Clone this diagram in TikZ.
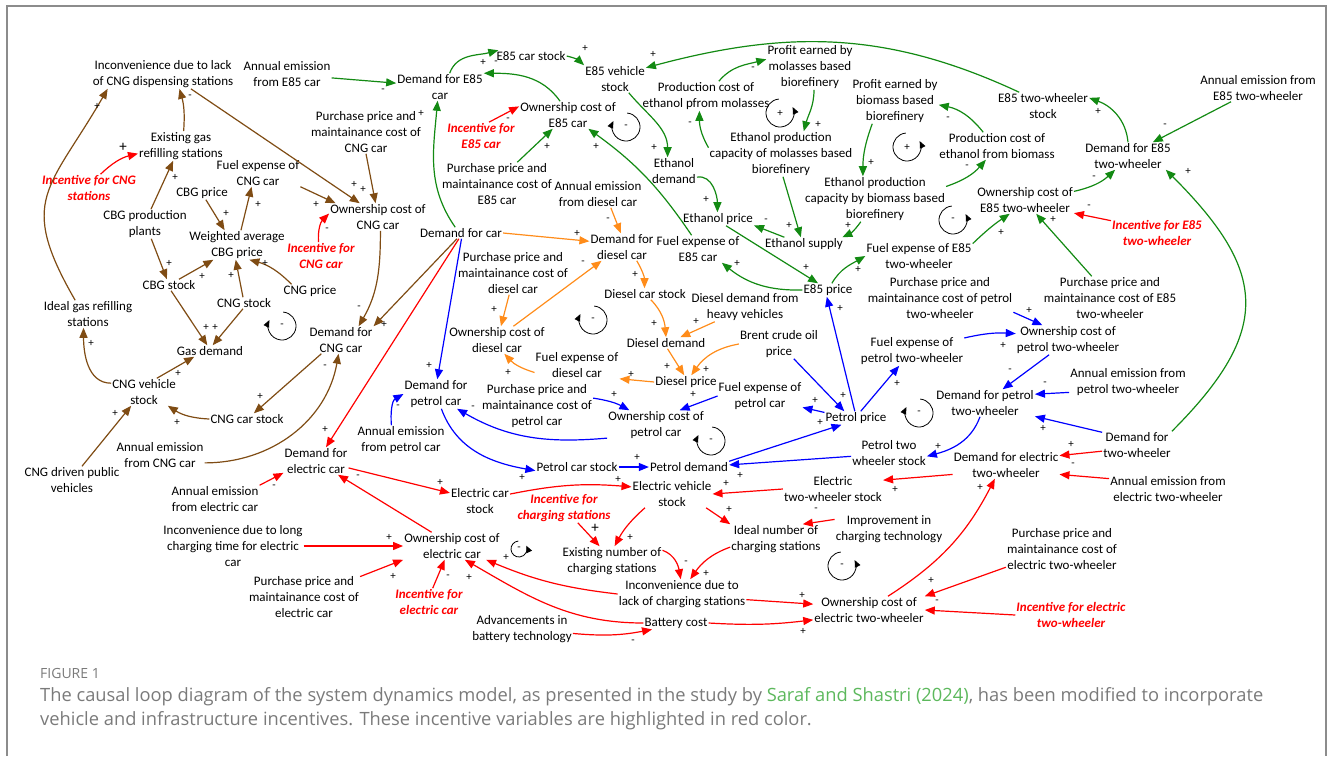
\documentclass[tikz,border=0pt]{standalone}
\usepackage{fontspec}
\setmainfont{Carlito}
\newfontfamily\capfont{Open Sans}
\usetikzlibrary{arrows.meta}
\begin{document}
\begin{tikzpicture}[x=1pt,y=1pt,
  every node/.style={font=\fontsize{13}{16}\selectfont,align=center,inner sep=1pt},
  incv/.style={text=rd,font=\fontsize{13}{16}\selectfont\bfseries\itshape},
  ar/.style={line width=1.2pt,-{Triangle[length=10pt,width=8pt]}},
  cng/.style={ar,cb}, eth/.style={ar,gr}, dsl/.style={ar,og},
  pet/.style={ar,bl}, ele/.style={ar,rd},
  sg/.style={font=\fontsize{11}{11}\selectfont,inner sep=0pt},
  sgbig/.style={font=\fontsize{15}{15}\selectfont,inner sep=0pt},
  lp/.style={line width=0.8pt,-{Triangle[length=7pt,width=6pt]}}]
  \definecolor{cb}{HTML}{7F4C14}
  \definecolor{gr}{HTML}{138A13}
  \definecolor{og}{HTML}{FF8C1A}
  \definecolor{bl}{HTML}{0000FF}
  \definecolor{rd}{HTML}{FF0000}
  \definecolor{fr}{HTML}{8C8C8C}
  \definecolor{cap}{HTML}{7A7A7A}
  \definecolor{lk}{HTML}{5CB85C}
  \useasboundingbox (0,0) rectangle (1330,-756);
  \draw[fr,line width=1.5pt] (7,-756) -- (7,-6) -- (1326,-6) -- (1326,-756);
  % cng
  \node (inconCNG) at (163,-74) {Inconvenience due to lack\\of CNG dispensing stations};
  \node (emE85car) at (287,-74) {Annual emission\\from E85 car};
  \node (demE85car) at (440,-87) {Demand for E85\\car};
  \node (exGas) at (181,-146) {Existing gas\\refilling stations};
  \node[incv] (incCNGst) at (89,-188) {Incentive for CNG\\stations};
  \node (fuelCNG) at (258,-173) {Fuel expense of\\CNG car};
  \node (ppCNG) at (366,-132) {Purchase price and\\maintainance cost of\\CNG car};
  \node (cbgPrice) at (202,-193) {CBG price};
  \node (ownCNG) at (378,-217) {Ownership cost of\\CNG car};
  \node (cbgPlants) at (145,-224) {CBG production\\plants};
  \node (wavgCBG) at (237,-245) {Weighted average\\CBG price};
  \node[incv] (incCNGcar) at (321,-256) {Incentive for\\CNG car};
  \node (cbgStock) at (169,-285) {CBG stock};
  \node (cngPrice) at (310,-291) {CNG price};
  \node (cngStock) at (244,-303) {CNG stock};
  \node (idealGas) at (88,-314) {Ideal gas refilling\\stations};
  \node (demCNG) at (341,-340) {Demand for\\CNG car};
  \node (gasDem) at (210,-351) {Gas demand};
  \node (cngVeh) at (144,-392) {CNG vehicle\\stock};
  \node (cngCar) at (247,-419) {CNG car stock};
  \node (emCNG) at (160,-455) {Annual emission\\from CNG car};
  \node (cngPub) at (72,-480) {CNG driven public\\vehicles};
  % e85
  \node (e85Car) at (531,-56) {E85 car stock};
  \node (e85Veh) at (615,-79) {E85 vehicle\\stock};
  \node (ownE85) at (568,-115) {Ownership cost of\\E85 car};
  \node[incv] (incE85) at (481,-136) {Incentive for\\E85 car};
  \node (ppE85) at (497,-184) {Purchase price and\\maintainance cost of\\E85 car};
  \node (emDies) at (598,-194) {Annual emission\\from diesel car};
  \node (demCar) at (461,-233) {Demand for car};
  \node (demDies) at (622,-247) {Demand for\\diesel car};
  \node (fuelE85) at (698,-249) {Fuel expense of\\E85 car};
  \node (pcMol) at (706,-96) {Production cost of\\ethanol pfrom molasses};
  \node (profMol) at (810,-67) {Profit earned by\\molasses based\\biorefinery};
  \node (ethDem) at (674,-171) {Ethanol\\demand};
  \node (capMol) at (781,-154) {Ethanol production\\capacity of molasses based\\biorefinery};
  \node (ethPrice) at (718,-219) {Ethanol price};
  \node (ethSup) at (804,-244) {Ethanol supply};
  \node (profBio) at (895,-101) {Profit earned by\\biomass based\\biorefinery};
  \node (capBio) at (875,-199) {Ethanol production\\capacity by biomass based\\biorefinery};
  \node (pcBio) at (997,-146) {Production cost of\\ethanol from biomass};
  \node (e85twSt) at (1043,-106) {E85 two-wheeler\\stock};
  \node (emE85tw) at (1258,-88) {Annual emission from\\E85 two-wheeler};
  \node (demE85tw) at (1128,-156) {Demand for E85\\two-wheeler};
  \node (ownE85tw) at (1025,-200) {Ownership cost of\\E85 two-wheeler};
  \node[incv] (incE85tw) at (1157,-233) {Incentive for E85\\two-wheeler};
  \node (fuelE85tw) at (919,-256) {Fuel expense of E85\\two-wheeler};
  \node (e85Price) at (828,-290) {E85 price};
  % diesel
  \node (ppDies) at (513,-273) {Purchase price and\\maintainance cost of\\diesel car};
  \node (diesCar) at (645,-294) {Diesel car stock};
  \node (diesHeavy) at (745,-307) {Diesel demand from\\heavy vehicles};
  \node (ownDies) at (497,-340) {Ownership cost of\\diesel car};
  \node (diesDem) at (666,-343) {Diesel demand};
  \node (brent) at (779,-344) {Brent crude oil\\price};
  \node (fuelDies) at (577,-365) {Fuel expense of\\diesel car};
  \node (diesPrice) at (686,-382) {Diesel price};
  % petrol
  \node (demPet) at (436,-394) {Demand for\\petrol car};
  \node (emPet) at (401,-440) {Annual emission\\from petrol car};
  \node (fuelPet) at (760,-396) {Fuel expense of\\petrol car};
  \node (ppPet) at (537,-406) {Purchase price and\\maintainance cost of\\petrol car};
  \node (ownPet) at (656,-425) {Ownership cost of\\petrol car};
  \node (petPrice) at (856,-418) {Petrol price};
  \node (petCar) at (577,-467) {Petrol car stock};
  \node (petDem) at (689,-467) {Petrol demand};
  \node (ppPettw) at (940,-298) {Purchase price and\\maintainance cost of petrol\\two-wheeler};
  \node (ppE85tw) at (1110,-298) {Purchase price and\\maintainance cost of E85\\two-wheeler};
  \node (ownPettw) at (1068,-340) {Ownership cost of\\petrol two-wheeler};
  \node (fuelPettw) at (912,-351) {Fuel expense of\\petrol two-wheeler};
  \node (emPettw) at (1128,-382) {Annual emission from\\petrol two-wheeler};
  \node (demPettw) at (985,-403) {Demand for petrol\\two-wheeler};
  \node (demTw) at (1137,-445) {Demand for\\two-wheeler};
  \node (petTwSt) at (889,-453) {Petrol two\\wheeler stock};
  % electric
  \node (demEl) at (316,-461) {Demand for\\electric car};
  \node (emEl) at (215,-499) {Annual emission\\from electric car};
  \node (demEltw) at (1006,-465) {Demand for electric\\two-wheeler};
  \node (emEltw) at (1168,-489) {Annual emission from\\electric two-wheeler};
  \node (elCar) at (480,-501) {Electric car\\stock};
  \node (elVeh) at (672,-494) {Electric vehicle\\stock};
  \node[incv] (incCharge) at (564,-508) {Incentive for\\charging stations};
  \node (elTwSt) at (833,-489) {Electric\\two-wheeler stock};
  \node (idealCh) at (776,-539) {Ideal number of\\charging stations};
  \node (improveCh) at (889,-529) {Improvement in\\charging technology};
  \node (exCh) at (612,-561) {Existing number of\\charging stations};
  \node (inconLong) at (233,-546) {Inconvenience due to long\\charging time for electric\\car};
  \node (ownEl) at (452,-546) {Ownership cost of\\electric car};
  \node (inconCh) at (682,-594) {Inconvenience due to\\lack of charging stations};
  \node (ownEltw) at (869,-610) {Ownership cost of\\electric two-wheeler};
  \node (ppEl) at (304,-597) {Purchase price and\\maintainance cost of\\electric car};
  \node[incv] (incEl) at (429,-602) {Incentive for\\electric car};
  \node (advBat) at (522,-629) {Advancements in\\battery technology};
  \node (batCost) at (676,-623) {Battery cost};
  \node (ppEltw) at (1062,-549) {Purchase price and\\maintainance cost of\\electric two-wheeler};
  \node[incv] (incEltw) at (1071,-615) {Incentive for electric\\two-wheeler};
  % cng links
  \draw[cng] (cngVeh.165) to[out=180,in=270] (idealGas.-108);
  \draw[cng] (idealGas.133) to[out=120,in=240,looseness=1.4] (inconCNG.-165);
  \draw[cng] (exGas.80) to[bend right=10] (inconCNG.-42);
  \draw[cng] (cbgPlants.68) -- (exGas.-118);
  \draw[cng] (inconCNG.-28) -- (ownCNG.143);
  \draw[cng] (ppCNG.south) -- (ownCNG.100);
  \draw[cng] (fuelCNG.south east) -- (ownCNG.162);
  \draw[cng] (cbgPrice.-60) -- (wavgCBG.130);
  \draw[cng] (wavgCBG.75) -- (fuelCNG.-115);
  \draw[cng] (cbgPlants.-67) -- (cbgStock.110);
  \draw[cng] (cbgStock.30) -- (wavgCBG.-148);
  \draw[cng] (cngStock.100) -- (wavgCBG.-95);
  \draw[cng] (cngPrice.160) to[bend right=15] (wavgCBG.-50);
  \draw[cng] (cbgStock.-70) -- (gasDem.115);
  \draw[cng] (cngStock.-100) -- (gasDem.65);
  \draw[cng] (cngVeh.47) -- (gasDem.-160);
  \draw[cng] (cngPub.54) -- (cngVeh.-133);
  \draw[cng] (cngCar.west) to[bend left=15] (cngVeh.-30);
  \draw[cng] (demCNG.-145) -- (cngCar.40);
  \draw[cng] (emCNG.-10) to[out=0,in=-100] (demCNG.-100);
  \draw[cng] (ownCNG.-80) to[out=-90,in=60] (demCNG.38);
  \draw[cng] (demCar.-125) -- (demCNG.north east);
  \draw[ele] (incCNGst.50) to[bend left=15] (exGas.190);
  \draw[ele] (incCNGcar.100) to[bend left=25] (ownCNG.176);
  % e85 links
  \draw[eth] (demCar.135) to[out=125,in=-95] (demE85car.-100);
  \draw[eth] (emE85car.-5) -- (demE85car.175);
  \draw[eth] (demE85car.55) to[out=70,in=195] (e85Car.170);
  \draw[eth] (ownE85.120) to[out=125,in=0] (demE85car.north east);
  \draw[eth] (ppE85.47) -- (ownE85.-138);
  \draw[eth] (fuelE85.115) to[bend right=10] (ownE85.-34);
  \draw[eth] (e85Car.east) to[bend left=15] (e85Veh.north west);
  \draw[eth] (e85twSt.150) to[out=155,in=15] (e85Veh.20);
  \draw[eth] (e85Veh.-45) to[out=-50,in=90] (ethDem.115);
  \draw[eth] (ethDem.-15) to[out=10,in=90] (ethPrice.95);
  \draw[eth] (ethSup.161) -- (ethPrice.-10);
  \draw[eth] (capMol.-85) -- (ethSup.115);
  \draw[eth] (capMol.175) to[out=120,in=-90] (pcMol.-114);
  \draw[eth] (pcMol.49) to[out=50,in=195] (profMol.170);
  \draw[eth] (profMol.-80) to[out=-90,in=75] (capMol.45);
  \draw[eth] (ethPrice.-40) -- (e85Price.146);
  \draw[eth] (e85Price.west) to[bend left=20] (fuelE85.-30);
  \draw[eth] (e85Price.60) to[out=60,in=210] (fuelE85tw.west);
  \draw[eth] (profBio.-135) to[out=-110,in=90] (capBio.118);
  \draw[eth] (capBio.-122) to[bend left=15] (ethSup.10);
  \draw[eth] (pcBio.135) to[bend right=20] (profBio.-5);
  \draw[eth] (capBio.10) to[bend right=15] (pcBio.-129);
  \draw[eth] (fuelE85tw.13) to[bend left=5] (ownE85tw.-138);
  \draw[eth] (ownE85tw.10) to[bend right=15] (demE85tw.-133);
  \draw[eth] (ppE85tw.130) -- (ownE85tw.-51);
  \draw[eth] (demE85tw.north) to[out=95,in=-20] (e85twSt.10);
  \draw[eth] (emE85tw.-153) -- (demE85tw.29);
  \draw[eth] (demTw.north east) to[out=45,in=-45,looseness=1.4] (demE85tw.-20);
  \draw[ele] (incE85.60) -- (ownE85.170);
  \draw[ele] (incE85tw.165) -- (ownE85tw.-15);
  % diesel links
  \draw[dsl] (demCar.east) -- (demDies.170);
  \draw[dsl] (emDies.-47) -- (demDies.95);
  \draw[dsl] (ownDies.40) -- (demDies.-146);
  \draw[dsl] (ppDies.-100) -- (ownDies.74);
  \draw[dsl] (demDies.-43) to[out=-60,in=90] (diesCar.95);
  \draw[dsl] (diesCar.-45) to[out=-45,in=95] (diesDem.north);
  \draw[dsl] (diesHeavy.-154) -- (diesDem.22);
  \draw[dsl] (diesDem.-75) -- (diesPrice.105);
  \draw[dsl] (brent.west) to[out=190,in=55] (diesPrice.52);
  \draw[dsl] (diesPrice.west) -- (fuelDies.south east);
  \draw[dsl] (fuelDies.190) to[bend left=15] (ownDies.-62);
  % petrol links
  \draw[pet] (demCar.-85) -- (demPet.85);
  \draw[pet] (emPet.123) to[out=95,in=210] (demPet.west);
  \draw[pet] (ownPet.-165) to[out=185,in=-30] (demPet.-35);
  \draw[pet] (ppPet.8) to[bend left=10] (ownPet.151);
  \draw[pet] (fuelPet.west) -- (ownPet.32);
  \draw[pet] (petPrice.170) -- (fuelPet.-15);
  \draw[pet] (brent.-45) -- (petPrice.150);
  \draw[pet] (petPrice.100) -- (e85Price.-100);
  \draw[pet] (petPrice.55) -- (fuelPettw.-131);
  \draw[pet] (petDem.north east) -- (petPrice.-155);
  \draw[pet] (demPet.-70) to[out=-70,in=170] (petCar.185);
  \draw[pet] (petCar.east) -- (petDem.west);
  \draw[pet] (petTwSt.185) -- (petDem.3);
  \draw[pet] (demPettw.-110) to[out=-110,in=15] (petTwSt.-5);
  \draw[pet] (fuelPettw.14) to[bend left=8] (ownPettw.173);
  \draw[pet] (ppPettw.-11) -- (ownPettw.150);
  \draw[pet] (ownPettw.-142) -- (demPettw.38);
  \draw[pet] (emPettw.190) -- (demPettw.10);
  \draw[pet] (demTw.160) -- (demPettw.-15);
  % electric links
  \draw[ele] (demCar.-110) -- (demEl.54);
  \draw[ele] (emEl.north east) -- (demEl.-160);
  \draw[ele] (demEl.-12) -- (elCar.165);
  \draw[ele] (ownEl.146) -- (demEl.-32);
  \draw[ele] (elCar.13) to[bend left=8] (elVeh.170);
  \draw[ele] (elTwSt.west) -- (elVeh.east);
  \draw[ele] (demEltw.190) -- (elTwSt.10);
  \draw[ele] (elVeh.-153) to[bend right=10] (exCh.80);
  \draw[ele] (incCharge.-47) -- (exCh.130);
  \draw[ele] (elVeh.-22) -- (idealCh.north west);
  \draw[ele] (improveCh.170) -- (idealCh.29);
  \draw[ele] (exCh.12) to[out=-20,in=100] (inconCh.95);
  \draw[ele] (idealCh.190) to[out=200,in=55] (inconCh.61);
  \draw[ele] (inconCh.west) to[bend left=8] (ownEl.-22);
  \draw[ele] (batCost.west) to[out=180,in=-30] (ownEl.-47);
  \draw[ele] (advBat.-5) to[bend right=8] (batCost.-165);
  \draw[ele] (inconLong.east) -- (ownEl.west);
  \draw[ele] (ppEl.20) -- (ownEl.south west);
  \draw[ele] (incEl.75) -- (ownEl.-118);
  \draw[ele] (inconCh.-5) -- (ownEltw.174);
  \draw[ele] (batCost.east) to[bend right=5] (ownEltw.-170);
  \draw[ele] (ownEltw.36) to[bend right=15] (demEltw.-129);
  \draw[ele] (ppEltw.-162) -- (ownEltw.north east);
  \draw[ele] (incEltw.west) -- (ownEltw.east);
  \draw[ele] (demTw.-170) -- (demEltw.10);
  \draw[ele] (emEltw.170) -- (demEltw.-10);
  % polarity signs
  \foreach \x/\y/\s [count=\i] in {91/343/+, 97/106/+, 190/97/-, 175/177/+, 354/184/+,
      363/189/+, 316/204/+, 226/213/+, 258/204/+, 327/230/-, 169/263/+, 202/276/+,
      231/275/+, 265/263/+, 206/327/+, 215/327/+, 178/373/+, 115/413/+, 177/422/+,
      260/396/+, 325/367/-, 359/308/-, 384/324/+,
      421/113/+, 383/91/-, 483/62/+, 496/63/-, 508/120/-, 547/146/+, 596/146/+,
      585/48/+, 653/54/+, 654/147/+, 706/199/+, 766/221/-, 789/225/+, 690/124/-,
      753/69/-, 818/124/+, 806/267/+, 737/263/+, 858/269/+, 871/162/+, 848/225/+,
      948/119/-, 967/167/-, 1001/232/+, 1094/178/-, 1089/207/-, 1053/219/+,
      1098/111/+, 1165/126/-, 1188/171/+,
      577/233/+, 608/220/-, 583/263/-, 494/309/+, 635/274/+, 654/323/+, 696/321/+,
      667/366/+, 706/369/+, 631/374/+, 508/372/+,
      429/365/+, 398/407/-, 473/408/-, 614/394/+, 693/394/+, 815/400/+, 843/395/+,
      840/308/+, 897/383/+, 820/422/+, 637/457/+, 740/475/+, 938/446/+, 1003/345/+,
      1029/310/+, 1010/371/-, 1045/384/-, 1043/428/+, 522/477/+,
      325/429/+, 274/487/-, 440/482/+, 358/477/-, 618/479/+, 726/483/+, 895/489/+,
      630/537/+, 729/509/+, 816/510/-, 686/563/-, 706/573/+, 506/557/+, 469/577/+,
      633/642/-, 389/537/+, 393/576/+, 448/577/-, 802/595/+, 803/631/+, 980/487/+,
      931/580/+, 937/602/-, 1071/444/+, 1073/465/-}
    \node[sg] (s\i) at (\x,-\y) {\s};
  \node[sgbig] (sgCNG) at (123,-147) {+};
  \node[sgbig] (sgCharge) at (595,-528) {+};
  % loops
  \foreach \x/\y/\s [count=\i] in {282/326/-, 626/127/-, 593/320/-, 919/413/-, 711/441/-} {
    \draw[lp] (\x,-\y) ++(85:14) arc[start angle=85,end angle=-205,radius=14];
    \node[sg] (loopL\i) at (\x,-\y) {\s};
  }
  \foreach \x/\y/\s [count=\i] in {780/113/+, 907/147/+, 953/220/-, 842/566/-} {
    \draw[lp] (\x,-\y) ++(95:14) arc[start angle=95,end angle=385,radius=14];
    \node[sg] (loopR\i) at (\x,-\y) {\s};
  }
  \draw[lp] (519,-549) ++(95:8) arc[start angle=95,end angle=385,radius=8];
  \node[sg] (loopEl) at (519,-549) {-};
  % caption
  \node[anchor=west,font=\capfont\fontsize{14}{16}\selectfont,text=cap] (figNo) at (39,-673) {FIGURE 1};
  \node[anchor=north west,align=left,inner sep=0pt,font=\capfont\fontsize{18.3}{24}\selectfont,text=cap] (figCap) at (40,-687)
    {The causal loop diagram of the system dynamics model, as presented in the study by {\color{lk}Saraf and Shastri (2024)}, has been modified to incorporate\\
     vehicle and infrastructure incentives. These incentive variables are highlighted in red color.};
\end{tikzpicture}
\end{document}
